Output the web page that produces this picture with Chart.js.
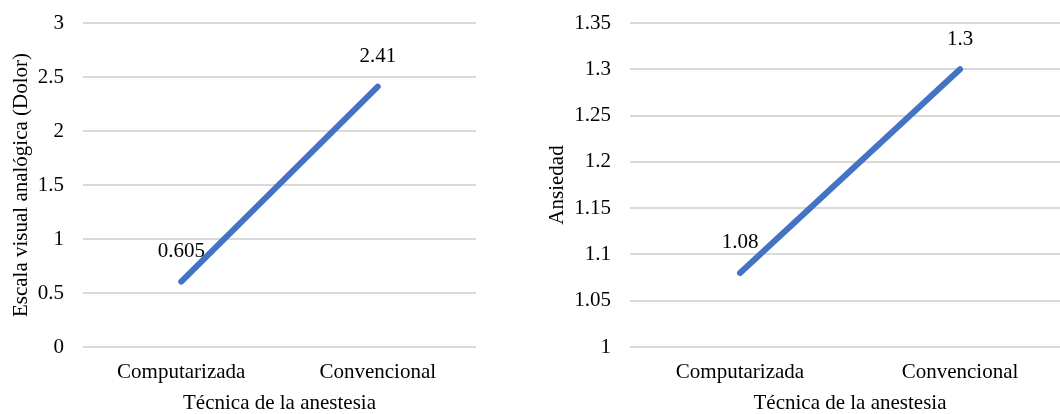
<!DOCTYPE html>
<html>
<head>
<meta charset="utf-8">
<script src="https://cdn.jsdelivr.net/npm/chart.js@4.4.0/dist/chart.umd.min.js"></script>
<style>
  html, body { margin: 0; padding: 0; background: #fff; overflow: hidden; }
  body { width: 1060px; height: 414px; position: relative; }
  .box { position: absolute; top: 0; height: 414px; }
  #boxDolor { left: 0; width: 530px; }
  #boxAns { left: 530px; width: 550px; }
</style>
</head>
<body>
<div class="box" id="boxDolor"><canvas id="chartDolor"></canvas></div>
<div class="box" id="boxAns"><canvas id="chartAns"></canvas></div>
<script>
// data
let categories = ["Computarizada", "Convencional"];
let dolorValues = [0.605, 2.41];
let ansiedadValues = [1.08, 1.3];
let dolorTicks = [0, 0.5, 1, 1.5, 2, 2.5, 3];
let ansiedadTicks = [1, 1.05, 1.1, 1.15, 1.2, 1.25, 1.3, 1.35];

const FONT = "'Liberation Serif', 'Times New Roman', serif";
const lineColor = "#4472C4";
const gridColor = "#d9d9d9";

// labels drawn above each point
const pointLabels = {
  id: "pointLabels",
  afterDatasetsDraw(chart) {
    let ctx = chart.ctx;
    let meta = chart.getDatasetMeta(0);
    let data = chart.data.datasets[0].data;
    ctx.save();
    ctx.font = "21px " + FONT;
    ctx.fillStyle = "#000";
    ctx.textAlign = "center";
    ctx.textBaseline = "middle";
    meta.data.forEach((pt, i) => {
      ctx.fillText(String(data[i]), pt.x, pt.y - 30);
    });
    ctx.restore();
  },
};

function makeChart(id, values, ticks, yTitle, leftW, padRight, titlePad) {
  let ctx = document.getElementById(id).getContext("2d");
  return new Chart(ctx, {
    type: "line",
    data: {
      labels: categories,
      datasets: [
        {
          data: values,
          borderColor: lineColor,
          borderWidth: 6,
          borderCapStyle: "round",
          pointRadius: 0,
          tension: 0,
        },
      ],
    },
    options: {
      responsive: true,
      maintainAspectRatio: false,
      animation: false,
      layout: { padding: { top: 23, right: padRight, bottom: 0, left: 0 } },
      plugins: { legend: { display: false }, tooltip: { enabled: false } },
      scales: {
        x: {
          offset: true,
          grid: { display: false },
          border: { display: false },
          ticks: { color: "#000", font: { family: FONT, size: 21 }, padding: 5, maxRotation: 0 },
          title: {
            display: true,
            text: "Técnica de la anestesia",
            color: "#000",
            font: { family: FONT, size: 21 },
            padding: { top: 0, bottom: -2 },
          },
          afterFit(s) { s.height = 67; s.paddingLeft = 0; s.paddingRight = 0; },
        },
        y: {
          min: ticks[0],
          max: ticks[ticks.length - 1],
          afterBuildTicks(s) { s.ticks = ticks.map((v) => ({ value: v })); },
          grid: { color: gridColor, lineWidth: 2, drawTicks: false },
          border: { display: false },
          ticks: {
            color: "#000",
            font: { family: FONT, size: 21 },
            padding: 19,
            callback: (v) => String(v),
          },
          title: {
            display: true,
            text: yTitle,
            color: "#000",
            font: { family: FONT, size: 21 },
            padding: { top: titlePad, bottom: 0 },
          },
          afterFit(s) { s.width = leftW; s.paddingTop = 0; s.paddingBottom = 0; },
        },
      },
    },
    plugins: [pointLabels],
  });
}

makeChart("chartDolor", dolorValues, dolorTicks, "Escala visual analógica (Dolor)", 83, 54, 9);
makeChart("chartAns", ansiedadValues, ansiedadTicks, "Ansiedad", 100, 10, 15);
</script>
</body>
</html>
